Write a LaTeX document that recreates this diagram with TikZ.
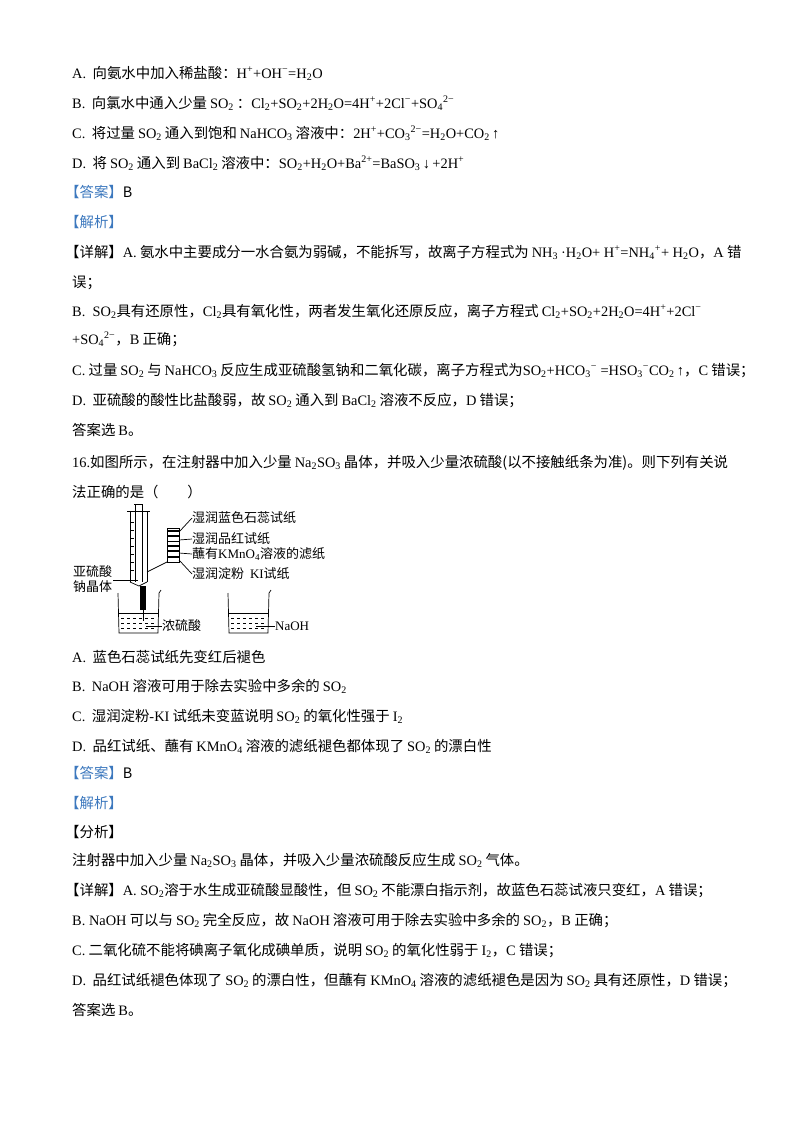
\documentclass[tikz,border=0pt]{standalone}
\usepackage{fontspec}
\setmainfont{Noto Sans CJK SC}
\newfontfamily\lib[Scale=1.0]{Liberation Serif}
\newcommand{\E}[1]{{\lib #1}}
\newcommand{\G}[1]{\hspace{3pt}{\lib #1}\hspace{3pt}}
\newcommand{\F}[2]{\hspace{3pt}{\lib #1}\textsubscript{\lib #2}\hspace{3pt}}
\newcommand{\dn}[1]{\textsubscript{\lib #1}}
\newcommand{\up}[1]{\textsuperscript{\lib #1}}
\definecolor{ans}{RGB}{60,120,190}
\begin{document}
\begin{tikzpicture}[x=1pt,y=-1pt,
  tx/.style={anchor=base west,inner sep=0pt,font=\fontsize{14.4}{16}\selectfont},
  lb/.style={anchor=west,inner sep=0pt,font=\fontsize{13}{15}\selectfont},
  ln/.style={line width=0.7pt}]
\useasboundingbox[fill=white] (0,0) rectangle (800,1132);
\node[tx] (l1) at (72,78) {\E{A.}\ \ 向氨水中加入稀盐酸：\E{H}\up{+}\E{+OH}\up{−}\E{=H}\dn{2}\E{O}};
\node[tx] (l2) at (72,108) {\E{B.}\ \ 向氯水中通入少量\F{SO}{2}：\E{Cl}\dn{2}\E{+SO}\dn{2}\E{+2H}\dn{2}\E{O=4H}\up{+}\E{+2Cl}\up{−}\E{+SO}\dn{4}\up{2−}};
\node[tx] (l3) at (72,138) {\E{C.}\ \ 将过量\F{SO}{2}通入到饱和\F{NaHCO}{3}溶液中：\E{2H}\up{+}\E{+CO}\dn{3}\up{2−}\E{=H}\dn{2}\E{O+CO}\dn{2}\E{\,↑}};
\node[tx] (l4) at (72,168) {\E{D.}\ \ 将\F{SO}{2}通入到\F{BaCl}{2}溶液中：\E{SO}\dn{2}\E{+H}\dn{2}\E{O+Ba}\up{2+}\E{=BaSO}\dn{3}\E{\,↓\,+2H}\up{+}};
\node[tx] (a1) at (65,197) {\textcolor{ans}{【答案】}B};
\node[tx] (a2) at (65,227) {\textcolor{ans}{【解析】}};
\node[tx] (l5) at (65,257) {【详解】\E{A.} 氨水中主要成分一水合氨为弱碱，不能拆写，故离子方程式为\F{NH}{3}\E{·H}\dn{2}\E{O+ H}\up{+}\E{=NH}\dn{4}\up{+}\E{+ H}\dn{2}\E{O}，\E{A} 错};
\node[tx] (l6) at (72,287) {误；};
\node[tx] (l7) at (72,316) {\E{B.\ \ SO}\dn{2}具有还原性，\E{Cl}\dn{2}具有氧化性，两者发生氧化还原反应，离子方程式\hspace{3pt}\E{Cl}\dn{2}\E{+SO}\dn{2}\E{+2H}\dn{2}\E{O=4H}\up{+}\E{+2Cl}\up{−}};
\node[tx] (l8) at (72,344) {\E{+SO}\dn{4}\up{2−}，\E{B} 正确；};
\node[tx] (l9) at (72,375) {\E{C.} 过量\F{SO}{2}与\F{NaHCO}{3}反应生成亚硫酸氢钠和二氧化碳，离子方程式为\E{SO}\dn{2}\E{+HCO}\dn{3}\up{−}\E{ =HSO}\dn{3}\up{−}\E{CO}\dn{2}\E{\,↑}，\E{C} 错误；};
\node[tx] (l10) at (72,405) {\E{D.}\ \ 亚硫酸的酸性比盐酸弱，故\F{SO}{2}通入到\F{BaCl}{2}溶液不反应，\E{D} 错误；};
\node[tx] (l11) at (72,435) {答案选\hspace{3pt}\E{B}。};
\node[tx] (q1) at (72,467) {\E{16.}如图所示，在注射器中加入少量\hspace{3pt}\E{Na}\dn{2}\E{SO}\dn{3}\hspace{3pt}晶体，并吸入少量浓硫酸(以不接触纸条为准)。则下列有关说};
\node[tx] (q2) at (72,497) {法正确的是（\qquad）};
% diagram
\draw[ln] (130,512)--(130,582) (147,512)--(147,582);
\draw[ln] (127,511)--(150,511);
\draw[ln] (135,504)--(135,582) (142,504)--(142,582);
\draw[ln] (134,504)--(143,504);
\foreach \yy in {522,530,538,546,554,562,570} \draw[line width=0.4pt] (130,\yy)--(134,\yy);
\draw[ln] (130,582)--(139,586)--(147,582);
\fill (140,586) rectangle (146,610);
\draw[ln] (143,610)--(143,621);
\draw[ln] (118,593)--(119,633)--(158,633)--(159,593)--(161,590);
\draw[ln] (118,613)--(159,613);
\foreach \yy in {618,623,628} \foreach \xx in {121,127,...,155} \draw[line width=0.35pt] (\xx,\yy)--(\xx+3,\yy);
\draw[ln] (228,593)--(229,633)--(268,633)--(269,593)--(271,590);
\draw[ln] (228,613)--(269,613);
\foreach \yy in {618,623,628} \foreach \xx in {231,237,...,265} \draw[line width=0.35pt] (\xx,\yy)--(\xx+3,\yy);
\draw[ln] (167,528) rectangle (179,562);
\foreach \yy/\w in {531/1.6,536/1.6,541/0.5,546/2.2,551/1.6,557/1.6} \draw[line width=\w pt] (167,\yy)--(179,\yy);
\node[lb] (p1) at (192,518) {湿润蓝色石蕊试纸};
\node[lb] (p2) at (192,539) {湿润品红试纸};
\node[lb] (p3) at (192,554) {蘸有\E{KMnO}\dn{4}溶液的滤纸};
\node[lb] (p4) at (192,574) {湿润淀粉\ \ \E{KI}试纸};
\draw[ln] (179,532)--(p1.west) (179,540)--(p2.west) (179,553)--(p3.west) (179,560)--(p4.west);
\draw[ln] (167,562)--(147,572);
\node[lb,align=left] (na) at (73,579) {亚硫酸\\钠晶体};
\draw[ln] (113,580)--(138,580);
\node[lb] (h2) at (162,626) {浓硫酸};
\draw[ln] (146,626)--(h2.west);
\node[lb] (oh) at (275,626) {\E{NaOH}};
\draw[ln] (256,626)--(oh.west);
% options
\node[tx] (o1) at (72,662) {\E{A.}\ \ 蓝色石蕊试纸先变红后褪色};
\node[tx] (o2) at (72,691) {\E{B.}\ \ \E{NaOH} 溶液可用于除去实验中多余的\F{SO}{2}};
\node[tx] (o3) at (72,721) {\E{C.}\ \ 湿润淀粉\E{-KI} 试纸未变蓝说明\F{SO}{2}的氧化性强于\F{I}{2}};
\node[tx] (o4) at (72,751) {\E{D.}\ \ 品红试纸、蘸有\F{KMnO}{4}溶液的滤纸褪色都体现了\F{SO}{2}的漂白性};
\node[tx] (b1) at (65,778) {\textcolor{ans}{【答案】}B};
\node[tx] (b2) at (65,808) {\textcolor{ans}{【解析】}};
\node[tx] (b3) at (65,837) {【分析】};
\node[tx] (m1) at (72,865) {注射器中加入少量\hspace{3pt}\E{Na}\dn{2}\E{SO}\dn{3}\hspace{3pt}晶体，并吸入少量浓硫酸反应生成\F{SO}{2}气体。};
\node[tx] (m2) at (65,895) {【详解】\E{A.\ SO}\dn{2}溶于水生成亚硫酸显酸性，但\F{SO}{2}不能漂白指示剂，故蓝色石蕊试液只变红，\E{A} 错误；};
\node[tx] (m3) at (72,925) {\E{B.\ NaOH} 可以与\F{SO}{2}完全反应，故\G{NaOH}溶液可用于除去实验中多余的\hspace{3pt}\E{SO}\dn{2}，\E{B} 正确；};
\node[tx] (m4) at (72,955) {\E{C.} 二氧化硫不能将碘离子氧化成碘单质，说明\F{SO}{2}的氧化性弱于\hspace{3pt}\E{I}\dn{2}，\E{C} 错误；};
\node[tx] (m5) at (72,985) {\E{D.}\ \ 品红试纸褪色体现了\F{SO}{2}的漂白性，但蘸有\F{KMnO}{4}溶液的滤纸褪色是因为\F{SO}{2}具有还原性，\E{D} 错误；};
\node[tx] (m6) at (72,1015) {答案选\hspace{3pt}\E{B}。};
\end{tikzpicture}
\end{document}
